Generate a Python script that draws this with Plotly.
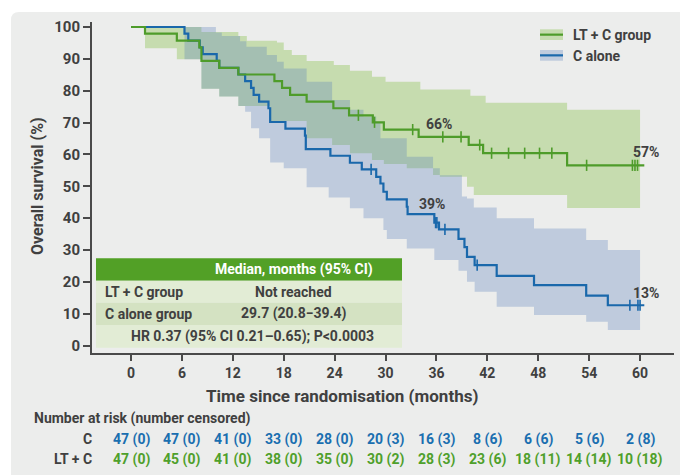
import plotly.graph_objects as go

# ---------------- data ----------------
months_ticks = [0, 6, 12, 18, 24, 30, 36, 42, 48, 54, 60]
surv_ticks = [0, 10, 20, 30, 40, 50, 60, 70, 80, 90, 100]

# LT + C group KM curve (time of step, survival % after step)
green_t = [0, 1.65, 5.4, 8.05, 8.3, 10.4, 12.65, 16.9, 17.8, 18.75, 20.7, 23.85,
           25.7, 28.5, 29.8, 33.9, 39.8, 41.5, 51.4]
green_s = [100, 97.9, 95.7, 93.6, 89.4, 87.2, 85.1, 83.0, 80.9, 78.7, 76.6, 74.5,
           72.3, 70.1, 67.8, 65.5, 63.0, 60.4, 56.6]
green_cens = [26.8, 28.7, 33.2, 36.75, 38.9, 41.1, 42.5, 44.5, 46.4, 48.15, 49.6,
              53.7, 59.1, 59.4, 59.7]

# C alone KM curve
blue_t = [0, 6.3, 6.75, 8.1, 8.45, 10.1, 10.4, 12.65, 13.45, 14.15, 14.45, 15.1,
          16.2, 16.4, 18.2, 20.5, 20.6, 23.5, 25.8, 27.2, 28.9, 29.4, 29.75, 30.15,
          32.5, 32.6, 35.75, 36.3, 38.6, 39.3, 39.6, 40.5, 43.1, 47.5, 53.65, 56.2]
blue_s = [100, 97.9, 95.7, 93.6, 91.5, 89.4, 87.2, 85.1, 83.0, 80.9, 78.7, 76.6,
          74.5, 70.2, 68.1, 65.9, 61.7, 59.6, 57.4, 55.3, 53.0, 50.9, 48.3, 45.9,
          43.6, 41.3, 38.6, 36.5, 33.5, 30.9, 27.9, 25.3, 21.9, 19.0, 15.7, 12.7]
blue_cens = [28.3, 35.9, 36.05, 37.0, 40.8, 58.8, 59.75, 60.0]

# 95% CI bands (step start times and values)
g_up_t = [0, 8.3, 12.65, 13.65, 17.2, 18.0, 18.95, 20.7, 23.9, 25.8, 28.4, 30.0,
          34.1, 40.0, 41.8, 51.4]
g_up_v = [100, 98.4, 97.2, 95.7, 95.1, 92.8, 91.2, 89.3, 88.1, 86.3, 84.4, 82.8,
          80.4, 78.4, 76.2, 74.0]
g_lo_t = [0, 1.65, 5.4, 8.3, 10.4, 12.65, 16.4, 20.7, 23.7, 25.8, 28.4, 29.8,
          32.5, 35.6, 36.4, 39.6, 40.4, 51.4]
g_lo_v = [100, 93.3, 89.9, 80.6, 78.2, 75.2, 70.5, 65.1, 63.0, 60.4, 58.3, 57.0,
          55.7, 53.6, 53.0, 49.9, 47.3, 43.2]

b_up_t = [0, 10.0, 10.7, 12.85, 13.6, 16.0, 17.2, 18.0, 20.7, 23.7, 25.8, 27.4,
          28.9, 29.4, 32.5, 35.6, 36.4, 39.0, 39.6, 40.4, 43.1, 47.5, 53.65, 56.2]
b_up_v = [100, 98.3, 97.2, 95.5, 93.8, 91.2, 89.1, 87.0, 82.8, 77.1, 74.0, 71.9,
          70.3, 65.1, 59.3, 55.7, 53.5, 46.8, 46.2, 43.4, 40.0, 36.8, 33.2, 30.0]
b_lo_t = [0, 6.3, 8.3, 10.4, 12.65, 13.45, 14.15, 15.1, 16.4, 18.0, 20.7, 23.3,
          25.8, 27.4, 29.75, 30.15, 32.5, 35.75, 38.6, 39.6, 40.5, 43.1, 47.5,
          53.65, 56.2]
b_lo_v = [100, 89.9, 80.6, 78.2, 75.2, 73.4, 68.2, 65.1, 57.5, 55.7, 49.7, 46.5,
          43.1, 40.0, 36.3, 33.5, 30.5, 26.9, 23.5, 20.1, 16.9, 12.2, 9.6, 7.5, 4.9]

band_end = 60
line_end = 60.5

pct_labels = ["66%", "57%", "39%", "13%"]

legend_names = ["LT + C group", "C alone"]

risk_c = ["47 (0)", "47 (0)", "41 (0)", "33 (0)", "28 (0)", "20 (3)", "16 (3)",
          "8 (6)", "6 (6)", "5 (6)", "2 (8)"]
risk_lt = ["47 (0)", "45 (0)", "41 (0)", "38 (0)", "35 (0)", "30 (2)", "28 (3)",
           "23 (6)", "18 (11)", "14 (14)", "10 (18)"]
risk_rows = ["C", "LT + C"]

table_header = "Median, months (95% CI)"
table_rows = [("LT + C group", "Not reached"), ("C alone group", "29.7 (20.8\u221239.4)")]
table_footer = "HR 0.37 (95% CI 0.21\u20130.65); P<0.0003"

# ---------------- styling ----------------
W, H = 680, 475
ML, MR, MT, MB = 92, 6, 22, 122
PW, PH = W - ML - MR, H - MT - MB

GREEN = "#4e9c2a"
BLUE = "#1a68ab"
GREEN_TXT = "#4fa02b"
BLUE_TXT = "#1a6fb0"
GREEN_FILL = "#c6dcaf"
BLUE_FILL = "rgba(86,127,184,0.30)"
DARK = "#404040"
AXIS = "#4a4a4a"
PANEL = "#ecedec"
FONT = "Roboto"


def px(x):
    return (x - ML) / PW


def py(y):
    return (H - MB - y) / PH


def steps(t, v, end):
    xs, ys = [], []
    for i in range(len(t)):
        t1 = t[i + 1] if i + 1 < len(t) else end
        xs += [t[i], t1]
        ys += [v[i], v[i]]
    return xs, ys


def value_at(t, v, c):
    val = v[0]
    for ti, vi in zip(t, v):
        if ti <= c:
            val = vi
    return val


fig = go.Figure()

# CI bands
ux, uy = steps(g_up_t, g_up_v, band_end)
lx, ly = steps(g_lo_t, g_lo_v, band_end)
fig.add_trace(go.Scatter(x=ux + lx[::-1], y=uy + ly[::-1], mode="lines",
                         line=dict(width=0), fill="toself", fillcolor=GREEN_FILL,
                         hoverinfo="skip", showlegend=False))
ux, uy = steps(b_up_t, b_up_v, band_end)
lx, ly = steps(b_lo_t, b_lo_v, band_end)
fig.add_trace(go.Scatter(x=ux + lx[::-1], y=uy + ly[::-1], mode="lines",
                         line=dict(width=0), fill="toself", fillcolor=BLUE_FILL,
                         hoverinfo="skip", showlegend=False))

# KM lines
for t, s, cens, col in [(blue_t, blue_s, blue_cens, BLUE), (green_t, green_s, green_cens, GREEN)]:
    xs, ys = steps(t, s, line_end)
    fig.add_trace(go.Scatter(x=xs, y=ys, mode="lines", line=dict(color=col, width=2.2),
                             showlegend=False, hoverinfo="skip"))
    fig.add_trace(go.Scatter(x=cens, y=[value_at(t, s, c) for c in cens], mode="markers",
                             marker=dict(symbol="line-ns", size=8,
                                         line=dict(color=col, width=1.6)),
                             showlegend=False, hoverinfo="skip"))

shapes = []
# grey panel with rounded corner
r = 8
path = (f"M {px(11)},{py(H)} L {px(11)},{py(12 + r)} Q {px(11)},{py(12)} {px(11 + r)},{py(12)} "
        f"L {px(W)},{py(12)} L {px(W)},{py(H)} Z")
shapes.append(dict(type="path", path=path, xref="paper", yref="paper",
                   fillcolor=PANEL, line=dict(width=0), layer="below"))

# median table
tx0, tx1 = 96, 402
rows_y = [258.3, 280.7, 302.7, 325, 347.7]
row_cols = ["#52a026", "#e2ecd5", "#d4e2c2", "#e2ecd5"]
for i, c in enumerate(row_cols):
    shapes.append(dict(type="rect", xref="paper", yref="paper",
                       x0=px(tx0), x1=px(tx1), y0=py(rows_y[i + 1]), y1=py(rows_y[i]),
                       fillcolor=c, line=dict(width=0), layer="above"))

# legend swatches
for (y0, y1), fc, lc in [((29.3, 40), GREEN_FILL, GREEN), ((50, 60.7), "#bfcbdd", BLUE)]:
    shapes.append(dict(type="rect", xref="paper", yref="paper", x0=px(540), x1=px(563),
                       y0=py(y1), y1=py(y0), fillcolor=fc, line=dict(width=0)))
    shapes.append(dict(type="line", xref="paper", yref="paper", x0=px(540), x1=px(563),
                       y0=py((y0 + y1) / 2), y1=py((y0 + y1) / 2), line=dict(color=lc, width=2.2)))

ann = []


def A(text, x, y, size=14, color=DARK, xanchor="center", xref="paper", yref="paper", **kw):
    ann.append(dict(text=text, x=x, y=y, xref=xref, yref=yref, showarrow=False,
                    xanchor=xanchor, yanchor="middle",
                    font=dict(family=FONT, size=size, color=color, weight="bold"), **kw))


# legend text
A(legend_names[0], px(571), py(35), xanchor="left")
A(legend_names[1], px(571), py(56), xanchor="left")

# percentage labels
A(pct_labels[0], px(439), py(124))
A(pct_labels[1], px(645.7), py(152.3))
A(pct_labels[2], px(431.5), py(204))
A(pct_labels[3], px(646), py(293.3))

# table text
A(table_header, px(293.5), py(269.5), color="white")
A(table_rows[0][0], px(102.5), py(291.7), xanchor="left")
A(table_rows[0][1], px(293.5), py(291.7))
A(table_rows[1][0], px(102.5), py(313.8), xanchor="left")
A(table_rows[1][1], px(293.5), py(313.8))
A(table_footer, px(252.5), py(336.3))

# axis titles
A("Time since randomisation (months)", px(341.7), py(396), size=17)
A("Overall survival (%)", px(37.5), py(186.5), size=16, textangle=-90)

# number at risk
A("Number at risk (number censored)", px(32), py(419), xanchor="left")
A(risk_rows[0], px(93.5), py(439.3), xanchor="right")
A(risk_rows[1], px(93.5), py(459.3), xanchor="right")
for t, c, l in zip(months_ticks, risk_c, risk_lt):
    A(c, t, py(439.3), color=BLUE_TXT, xref="x")
    A(l, t, py(459.3), color=GREEN_TXT, xref="x")

fig.update_layout(
    width=W, height=H, margin=dict(l=ML, r=MR, t=MT, b=MB),
    paper_bgcolor="white", plot_bgcolor="rgba(0,0,0,0)",
    shapes=shapes, annotations=ann, showlegend=False,
    font=dict(family=FONT, color=DARK),
)
fig.update_xaxes(range=[-4.6, 64.0], tickvals=months_ticks, ticks="outside", ticklen=6,
                 tickwidth=2, tickcolor=AXIS, showline=True, linewidth=2, linecolor=AXIS,
                 showgrid=False, zeroline=False,
                 tickfont=dict(family=FONT, size=14, color=DARK, weight="bold"))
fig.update_yaxes(range=[-2.29, 101.57], tickvals=surv_ticks, ticks="outside", ticklen=7,
                 tickwidth=2, tickcolor=AXIS, showline=True, linewidth=2, linecolor=AXIS,
                 showgrid=False, zeroline=False,
                 tickfont=dict(family=FONT, size=15, color=DARK, weight="bold"))

fig.write_html("out.html")
